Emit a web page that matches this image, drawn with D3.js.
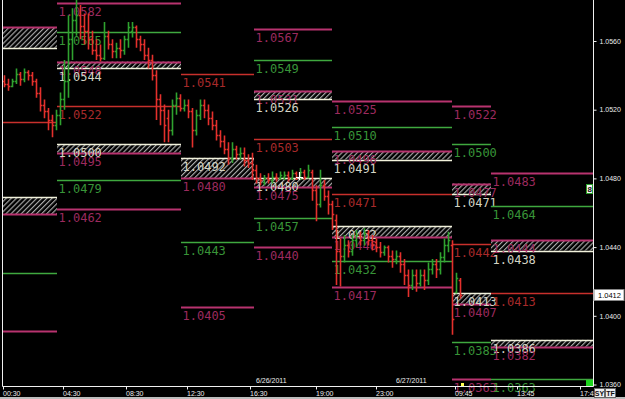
<!DOCTYPE html>
<html><head><meta charset="utf-8">
<script src="https://cdn.jsdelivr.net/npm/d3@7/dist/d3.min.js"></script>
<style>html,body{margin:0;padding:0;background:#000;overflow:hidden}svg{display:block}</style>
</head><body>
<svg id="c" width="625" height="399"></svg>
<script>
// ---------- DATA ----------
const barOpen  = [1.0537,1.0535,1.0534,1.0537,1.0541,1.0538,1.0542,1.0540,1.0537,1.0530,1.0523,1.0519,1.0514,1.0511,1.0517,1.0526,1.0537,1.0561,1.0572,1.0575,
1.0569,1.0566,1.0561,1.0555,1.0552,1.0550,1.0563,1.0558,1.0554,1.0556,1.0555,1.0561,1.0566,1.0568,1.0561,1.0558,1.0552,1.0549,1.0540,1.0526,
1.0520,1.0515,1.0508,1.0523,1.0527,1.0521,1.0523,1.0519,1.0508,1.0517,1.0523,1.0520,1.0515,1.0511,1.0505,1.0502,1.0497,1.0492,1.0497,1.0494,
1.0495,1.0491,1.0489,1.0485,1.0480,1.0478,1.0480,1.0479,1.0481,1.0480,1.0481,1.0482,1.0480,1.0483,1.0481,1.0484,1.0481,1.0484,1.0473,1.0465,
1.0476,1.0470,1.0465,1.0456,1.0438,1.0435,1.0441,1.0438,1.0444,1.0447,1.0444,1.0448,1.0444,1.0443,1.0440,1.0437,1.0440,1.0435,1.0433,1.0435,
1.0430,1.0424,1.0418,1.0424,1.0419,1.0424,1.0421,1.0427,1.0430,1.0427,1.0434,1.0441,1.0441,1.0414,1.0421];
const barHigh  = [1.0540,1.0538,1.0538,1.0544,1.0542,1.0544,1.0543,1.0542,1.0538,1.0533,1.0526,1.0521,1.0517,1.0520,1.0530,1.0549,1.0575,1.0579,1.0584,1.0581,
1.0576,1.0576,1.0566,1.0561,1.0558,1.0571,1.0566,1.0561,1.0559,1.0561,1.0563,1.0571,1.0571,1.0569,1.0563,1.0561,1.0556,1.0552,1.0543,1.0529,
1.0523,1.0520,1.0526,1.0530,1.0529,1.0526,1.0526,1.0521,1.0520,1.0526,1.0526,1.0523,1.0519,1.0514,1.0508,1.0505,1.0501,1.0501,1.0499,1.0498,
1.0498,1.0494,1.0495,1.0488,1.0483,1.0482,1.0483,1.0484,1.0483,1.0484,1.0484,1.0484,1.0485,1.0484,1.0486,1.0485,1.0488,1.0485,1.0476,1.0485,
1.0479,1.0473,1.0467,1.0459,1.0445,1.0447,1.0444,1.0447,1.0450,1.0449,1.0451,1.0450,1.0447,1.0445,1.0443,1.0441,1.0441,1.0438,1.0438,1.0437,
1.0433,1.0427,1.0427,1.0427,1.0427,1.0427,1.0431,1.0433,1.0433,1.0437,1.0445,1.0449,1.0444,1.0425,1.0422];
const barLow   = [1.0533,1.0531,1.0533,1.0535,1.0534,1.0536,1.0537,1.0534,1.0527,1.0519,1.0515,1.0508,1.0504,1.0508,1.0511,1.0520,1.0527,1.0549,1.0563,1.0561,
1.0558,1.0555,1.0552,1.0549,1.0548,1.0549,1.0555,1.0550,1.0550,1.0550,1.0552,1.0556,1.0562,1.0556,1.0554,1.0549,1.0544,1.0537,1.0514,1.0511,
1.0501,1.0501,1.0505,1.0517,1.0519,1.0519,1.0515,1.0498,1.0505,1.0514,1.0515,1.0511,1.0508,1.0502,1.0498,1.0494,1.0488,1.0489,1.0491,1.0491,
1.0487,1.0486,1.0479,1.0477,1.0476,1.0476,1.0477,1.0477,1.0478,1.0479,1.0479,1.0478,1.0479,1.0479,1.0479,1.0479,1.0480,1.0467,1.0455,1.0463,
1.0467,1.0459,1.0450,1.0418,1.0417,1.0431,1.0434,1.0435,1.0440,1.0441,1.0441,1.0441,1.0438,1.0437,1.0434,1.0435,1.0431,1.0428,1.0430,1.0425,
1.0418,1.0411,1.0415,1.0414,1.0417,1.0415,1.0418,1.0424,1.0422,1.0424,1.0431,1.0437,1.0389,1.0413,1.0410];
const barClose = [1.0535,1.0534,1.0537,1.0541,1.0538,1.0542,1.0540,1.0537,1.0530,1.0523,1.0519,1.0514,1.0511,1.0517,1.0526,1.0537,1.0561,1.0572,1.0575,1.0569,
1.0566,1.0561,1.0555,1.0552,1.0550,1.0563,1.0558,1.0554,1.0556,1.0555,1.0561,1.0568,1.0568,1.0561,1.0558,1.0552,1.0549,1.0540,1.0526,1.0520,
1.0511,1.0508,1.0523,1.0527,1.0521,1.0523,1.0519,1.0508,1.0517,1.0523,1.0520,1.0515,1.0511,1.0505,1.0502,1.0497,1.0492,1.0497,1.0494,1.0495,
1.0491,1.0489,1.0485,1.0480,1.0479,1.0480,1.0479,1.0481,1.0480,1.0482,1.0482,1.0480,1.0483,1.0481,1.0484,1.0481,1.0485,1.0473,1.0465,1.0476,
1.0470,1.0465,1.0459,1.0438,1.0435,1.0441,1.0438,1.0444,1.0447,1.0444,1.0448,1.0444,1.0441,1.0440,1.0437,1.0440,1.0435,1.0433,1.0435,1.0430,
1.0424,1.0418,1.0424,1.0419,1.0424,1.0421,1.0427,1.0430,1.0427,1.0434,1.0441,1.0444,1.0398,1.0422,1.0412];

// sessions (time-slot units)
const sessionStart = [-30, 13.5, 44.5, 62.75, 82.25, 112.25, 122];
const sessionEnd   = [13.5, 44.5, 62.75, 82.25, 112.25, 122, 147.5];

// pivot levels: [session, value, kind]  m=magenta g=green r=red w=white
const levels = [
 [0,1.0568,'m'],[0,1.0556,'w'],[0,1.0513,'r'],[0,1.0469,'w'],[0,1.0459,'m'],[0,1.0425,'g'],[0,1.0391,'m'],
 [1,1.0582,'m'],[1,1.0565,'g'],[1,1.0548,'m'],[1,1.0544,'w'],[1,1.0522,'r'],[1,1.0500,'w'],[1,1.0495,'m'],[1,1.0479,'g'],[1,1.0462,'m'],
 [2,1.0541,'r'],[2,1.0492,'w'],[2,1.0480,'m'],[2,1.0443,'g'],[2,1.0405,'m'],
 [3,1.0567,'m'],[3,1.0549,'g'],[3,1.0531,'m'],[3,1.0526,'w'],[3,1.0503,'r'],[3,1.0480,'w'],[3,1.0475,'m'],[3,1.0457,'g'],[3,1.0440,'m'],
 [4,1.0525,'m'],[4,1.0510,'g'],[4,1.0496,'m'],[4,1.0491,'w'],[4,1.0471,'r'],[4,1.0452,'w'],[4,1.0446,'m'],[4,1.0432,'g'],[4,1.0417,'m'],
 [5,1.0522,'m'],[5,1.0500,'g'],[5,1.0477,'m'],[5,1.0471,'w'],[5,1.0442,'r'],[5,1.0413,'w'],[5,1.0407,'m'],[5,1.0385,'g'],[5,1.0363,'m'],
 [6,1.0483,'m'],[6,1.0464,'g'],[6,1.0444,'m'],[6,1.0438,'w'],[6,1.0413,'r'],[6,1.0386,'w'],[6,1.0382,'m'],[6,1.0363,'g']
];
// hatched zones: [session, high, low]
const zones = [
 [0,1.0568,1.0556],[0,1.0469,1.0459],
 [1,1.0548,1.0544],[1,1.0500,1.0495],
 [2,1.0492,1.0480],
 [3,1.0531,1.0526],[3,1.0480,1.0475],
 [4,1.0496,1.0491],[4,1.0452,1.0446],
 [5,1.0477,1.0471],[5,1.0413,1.0407],
 [6,1.0444,1.0438],[6,1.0386,1.0382]
];

const timeTickSlots  = [0, 15, 30.75, 46, 61.75, 78.25, 93.25, 113, 128.5, 144.25];
const timeTickLabels = ["00:30","04:30","08:30","12:30","16:30","19:00","23:00","09:45","13:45","17:45"];
const dateSlots  = [63.25, 98.25];
const dateLabels = ["6/26/2011","6/27/2011"];
const priceTicks = [1.0560,1.0520,1.0480,1.0440,1.0400,1.0360];
const lastPrice = 1.0412;

// ---------- DRAW ----------
const W = 625, H = 399;
const svg = d3.select('#c');
svg.append('rect').attr('width',W).attr('height',H).attr('fill','#000');

const x = d3.scaleLinear().domain([0,147.5]).range([3,593]);
const y = d3.scaleLinear().domain([1.0360,1.0560]).range([384.5,41]);

const defs = svg.append('defs');
const pat = defs.append('pattern').attr('id','hatch').attr('patternUnits','userSpaceOnUse')
  .attr('width',3.6).attr('height',3.6).attr('patternTransform','rotate(45)');
pat.append('rect').attr('width',3.6).attr('height',3.6).attr('fill','#000');
pat.append('line').attr('x1',0.6).attr('y1',0).attr('x2',0.6).attr('y2',3.6)
  .attr('stroke','#b4b4b4').attr('stroke-width',1.1);
defs.append('clipPath').attr('id','plot').append('rect')
  .attr('x',2.5).attr('y',-5).attr('width',590.5).attr('height',410);
defs.append('clipPath').attr('id','bars').append('rect')
  .attr('x',2.5).attr('y',0).attr('width',590.5).attr('height',386);

const lineCol  = {m:'#b8336f', g:'#3fa83f', r:'#c8302c', w:'#f2f2dc'};
const labelCol = {m:'#9c2a5e', g:'#389438', r:'#a82a2a', w:'#d4d4c4'};
const lineW    = {m:2, g:1.4, r:1.4, w:1.6};
const fmt = d3.format('.4f');

const gl = svg.append('g').attr('clip-path','url(#plot)');
sessionStart.forEach((s0,i)=>{
  const x0 = x(s0), x1 = x(sessionEnd[i]);
  const g = gl.append('g');
  zones.filter(z=>z[0]===i).forEach(z=>{
    g.append('rect').attr('x',x0).attr('y',y(z[1])).attr('width',x1-x0)
     .attr('height',y(z[2])-y(z[1])).attr('fill','url(#hatch)');
  });
  levels.filter(l=>l[0]===i).forEach(l=>{
    const yy = Math.round(y(l[1]))+0.5;
    g.append('line').attr('x1',x0).attr('x2',x1).attr('y1',yy).attr('y2',yy)
     .attr('stroke',lineCol[l[2]]).attr('stroke-width',lineW[l[2]]);
  });
  if (x0 >= 0) {   // labels sit at the session start; off-chart sessions show none
    levels.filter(l=>l[0]===i).forEach(l=>{
      const yy = Math.round(y(l[1]));
      g.append('text').attr('x',x0+1.5).attr('y',yy+13)
       .attr('fill',labelCol[l[2]]).attr('font-family','DejaVu Sans Mono')
       .attr('font-size',12).text(fmt(l[1]));
    });
  }
});

// OHLC bars
const gb = svg.append('g').attr('clip-path','url(#bars)');
barOpen.forEach((o,k)=>{
  const cx = Math.round(x(k+0.25))+0.5;
  const c = barClose[k];
  const col = c >= o ? '#2fa22f' : '#e4302c';
  const p = `M${cx},${y(barHigh[k])}V${y(barLow[k])}M${cx-1.8},${Math.round(y(o))+0.5}H${cx}M${cx},${Math.round(y(c))+0.5}H${cx+1.8}`;
  gb.append('path').attr('d',p).attr('stroke',col).attr('stroke-width',1.6).attr('fill','none');
});

// frame
const fr = svg.append('g').attr('stroke','#f0f0f0').attr('stroke-width',1);
fr.append('line').attr('x1',2.5).attr('x2',2.5).attr('y1',0).attr('y2',386.5);
fr.append('line').attr('x1',593.5).attr('x2',593.5).attr('y1',0).attr('y2',386.5);
fr.append('line').attr('x1',2.5).attr('x2',593.5).attr('y1',386.5).attr('y2',386.5);

// bottom axis
const xa = svg.append('g').attr('transform','translate(0,386.5)')
  .call(d3.axisBottom(x).tickValues(timeTickSlots).tickFormat((d,i)=>timeTickLabels[i]).tickSize(3).tickSizeOuter(0));
xa.select('.domain').remove();
xa.selectAll('line').attr('stroke','#f0f0f0');
xa.selectAll('text').attr('fill','#ececec').attr('font-family','Liberation Sans, Arial')
  .attr('font-size',7).attr('text-anchor','start').attr('x',-0.5).attr('y',5).attr('dy','0.71em');

// date labels
svg.selectAll('.date').data(dateSlots).join('text').attr('class','date')
  .attr('x',d=>x(d)).attr('y',383).attr('fill','#ececec')
  .attr('font-family','Liberation Sans, Arial').attr('font-size',7)
  .text((d,i)=>dateLabels[i]);

// right axis
const ya = svg.append('g').attr('transform','translate(593.5,0)')
  .call(d3.axisRight(y).tickValues(priceTicks).tickFormat(fmt).tickSize(3).tickSizeOuter(0));
ya.select('.domain').remove();
ya.selectAll('line').attr('stroke','#f0f0f0');
ya.selectAll('text').attr('fill','#ececec').attr('font-family','Liberation Sans, Arial')
  .attr('font-size',7).attr('x',6);

// last price box
const lp = y(lastPrice);
svg.append('rect').attr('x',594).attr('y',Math.round(lp)-5.5).attr('width',30).attr('height',11)
  .attr('fill','#fff').attr('stroke','#888');
svg.append('text').attr('x',598).attr('y',Math.round(lp)+3).attr('fill','#000')
  .attr('font-family','Liberation Sans, Arial').attr('font-size',7.5).text(fmt(lastPrice));

// markers
svg.append('rect').attr('x',586.5).attr('y',184.5).attr('width',6).attr('height',9)
  .attr('fill','#f4f4f4').attr('stroke','#2aa02a');
svg.append('text').attr('x',587.5).attr('y',192).attr('fill','#111')
  .attr('font-family','Liberation Sans, Arial').attr('font-weight','bold').attr('font-size',8).text('8');
svg.append('rect').attr('x',586).attr('y',380).attr('width',7).attr('height',6).attr('fill','#1ed41e');
svg.append('rect').attr('x',461).attr('y',383).attr('width',3).attr('height',3).attr('fill','#ffff50');
svg.append('line').attr('x1',299.5).attr('x2',299.5).attr('y1',172).attr('y2',180).attr('stroke','#fff').attr('stroke-width',1.2);
svg.append('line').attr('x1',296).attr('x2',303).attr('y1',177.5).attr('y2',177.5).attr('stroke','#fff').attr('stroke-width',1);

// bottom gray strip & buttons
svg.append('rect').attr('x',0).attr('y',397).attr('width',W).attr('height',2).attr('fill','#bdbdbd');
[['SY',594],['TF',605]].forEach(([t,bx])=>{
  svg.append('rect').attr('x',bx+0.5).attr('y',388.5).attr('width',10).attr('height',9)
    .attr('fill','#ececec').attr('stroke','#666');
  svg.append('text').attr('x',bx+5.5).attr('y',396).attr('text-anchor','middle')
    .attr('font-family','Liberation Sans, Arial').attr('font-weight','bold').attr('font-size',7)
    .attr('fill','#111').text(t);
});
</script>
</body></html>
